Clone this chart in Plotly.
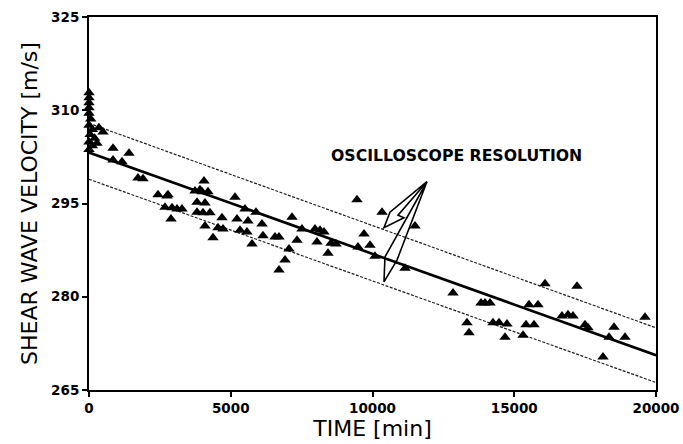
import plotly.graph_objects as go

# ---- data ----
time_min = [0, 0, 0, 0, 0, 60, 0, 120, 40, 200, 0, 120, 0, 350, 494, 282,
            847, 1411, 847, 1164, 1728, 1905, 2434, 2750, 2787, 4056, 3915, 3739,
            3986, 4197, 5150, 3810, 4091, 2681, 2928, 3104, 3280, 3810, 4021, 4268,
            4691, 5503, 5891, 5220, 5608, 6102, 2892, 4091, 4550, 4727, 5326, 5573,
            6138, 4374, 5750,
            6561, 6702, 7160, 7513, 7337, 7972, 8148, 8289, 8042, 8536, 8712, 8430,
            7055, 6914, 6702, 9453, 10335, 9700, 9912, 9488, 10088,
            11499, 11146, 12840,
            13827, 13968, 14145, 13333, 13404, 14250, 14462, 14744, 14674, 15309,
            15415, 15697, 15520, 15838, 16085, 16684, 16896,
            17213, 17072, 17496, 17601, 18519, 18342, 18907, 18131, 19612]
velocity = [312.8, 312.0, 311.2, 310.4, 309.5, 308.6, 307.6, 306.9, 306.1, 305.5, 304.9, 304.3, 303.7, 307.2, 306.5, 304.7,
            303.9, 303.1, 302.0, 301.7, 299.1, 299.0, 296.4, 296.2, 296.4, 298.6, 297.2, 297.0,
            296.9, 296.9, 296.0, 295.2, 295.1, 294.4, 294.3, 294.1, 294.1, 293.6, 293.5, 293.5,
            292.7, 294.1, 293.6, 292.5, 292.2, 291.7, 292.5, 291.4, 291.1, 290.9, 290.7, 290.4,
            289.8, 289.5, 288.5,
            289.6, 289.6, 292.8, 290.9, 289.1, 290.9, 290.7, 290.4, 288.8, 288.6, 288.5, 287.0,
            287.7, 285.9, 284.3, 295.6, 293.6, 290.1, 288.3, 288.0, 286.5,
            291.4, 284.6, 280.6,
            279.0, 279.0, 279.0, 275.8, 274.2, 275.8, 275.8, 275.6, 273.5, 273.8,
            275.5, 275.5, 278.7, 278.7, 282.1, 276.9, 277.1,
            281.7, 276.9, 275.5, 275.0, 275.1, 273.5, 273.5, 270.3, 276.7]

fit_x = [0, 20000]
fit_y = [303.2, 270.6]
upper_y = [307.9, 275.0]
lower_y = [298.9, 266.2]

x_ticks = [0, 5000, 10000, 15000, 20000]
y_ticks = [265, 280, 295, 310, 325]

# arrow outlines (annotation graphics, in data units)
arrow_apex = (11920, 298.5)
upper_arrow = [(10616, 293.6), (10405, 291.1), (11110, 292.7), (10900, 293.1)]
lower_arrow = [(10863, 285.9), (10405, 282.4), (10440, 286.4)]

fig = go.Figure()

for yy in (upper_y, lower_y):
    fig.add_trace(go.Scatter(x=fit_x, y=yy, mode="lines",
                             line=dict(color="#222", width=1.2, dash="3px,1.5px"),
                             hoverinfo="skip", showlegend=False))
fig.add_trace(go.Scatter(x=fit_x, y=fit_y, mode="lines",
                         line=dict(color="black", width=2.6),
                         hoverinfo="skip", showlegend=False))
fig.add_trace(go.Scatter(x=time_min, y=velocity, mode="markers",
                         marker=dict(symbol="triangle-up", size=10, color="black"),
                         cliponaxis=False, showlegend=False))

def path(points):
    s = "M %f,%f" % arrow_apex
    for px, py in points:
        s += " L %f,%f" % (px, py)
    return s + " Z"

for pts in (upper_arrow, lower_arrow):
    fig.add_shape(type="path", path=path(pts), xref="x", yref="y",
                  line=dict(color="black", width=1.6), fillcolor="rgba(0,0,0,0)")

fig.add_annotation(x=12960, y=302.8, xref="x", yref="y", text="<b>OSCILLOSCOPE RESOLUTION</b>",
                   showarrow=False, font=dict(family="DejaVu Sans", size=15.7, color="black"))

axis_common = dict(showgrid=False, zeroline=False, showline=True, linecolor="black",
                   linewidth=2, mirror=True, ticks="outside", ticklen=5, tickwidth=2,
                   tickcolor="black",
                   tickfont=dict(family="DejaVu Sans", size=13.5, color="black", weight="bold"))

fig.update_xaxes(range=[0, 20000], tickvals=x_ticks, ticktext=[str(v) for v in x_ticks],
                 title=dict(text="TIME [min]", font=dict(family="DejaVu Sans", size=22, color="black"),
                            standoff=5),
                 **axis_common)
fig.update_yaxes(range=[265, 325], tickvals=y_ticks, ticktext=[str(v) for v in y_ticks],
                 title=dict(text="SHEAR WAVE VELOCITY [m/s]",
                            font=dict(family="DejaVu Sans", size=22, color="black"), standoff=7),
                 **axis_common)

fig.update_layout(width=683, height=444, margin=dict(l=89, r=27, t=17, b=54, autoexpand=False),
                  paper_bgcolor="white", plot_bgcolor="white")

fig.write_html("out.html")
